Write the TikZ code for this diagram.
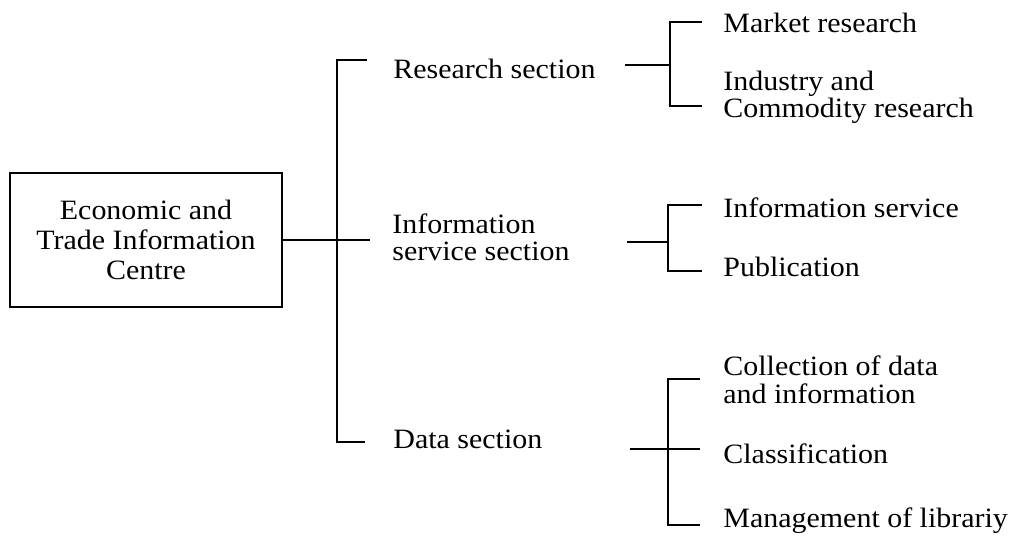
\documentclass[tikz,border=0pt]{standalone}
\usepackage{fontspec}
\setmainfont{Liberation Serif}[FakeStretch=1.07]
\begin{document}
\begin{tikzpicture}[x=0.5pt,y=-0.5pt]
	\tikzset{unit/.style = {draw, line width=0.9pt, align=center, minimum width=136pt, minimum height=67pt, inner sep=0pt, font=\fontsize{14}{15}\selectfont}}
	\tikzset{part/.style = {align=left, inner sep=0pt, font=\fontsize{14}{13.5}\selectfont}}
	\tikzset{link/.style = {line width=0.8pt}}
	\useasboundingbox (0,0) rectangle (1012,539);
	% Draw the centre and its sections
	\node[unit] (centre) at (146,240) {Economic and\\Trade Information\\Centre};
	\node[part, anchor=base west] (research) at (393,79) {Research section};
	\node[part, anchor=west] (service) at (392,237) {Information\\service section};
	\node[part, anchor=base west] (data) at (393,449) {Data section};
	% Draw the sub-units
	\node[part, anchor=base west] (market) at (723,33) {Market research};
	\node[part, anchor=west] (industry) at (723,97) {Industry and\\Commodity research};
	\node[part, anchor=base west] (infoserv) at (723,218) {Information service};
	\node[part, anchor=base west] (publ) at (723,277) {Publication};
	\node[part, anchor=west, font=\fontsize{14}{14}\selectfont] (collect) at (723,380) {Collection of data\\and information};
	\node[part, anchor=base west] (classif) at (723,464) {Classification};
	\node[part, anchor=base west] (library) at (723,527) {Management of librariy};
	% Main bracket
	\coordinate (m1) at (337,60);
	\coordinate (m3) at (337,442);
	\coordinate (t1) at (367,60);
	\coordinate (t2) at (370,240);
	\coordinate (t3) at (365,442);
	\draw[link, line width=1.2pt] (t1) -- (m1) -- (m3) -- (t3);
	\draw[link] (centre.east) -- (t2);
	% Research branch
	\coordinate (ra) at (625,65);
	\coordinate (rb) at (670,65);
	\coordinate (r1) at (670,22);
	\coordinate (r2) at (670,106);
	\coordinate (r1e) at (702,22);
	\coordinate (r2e) at (702,106);
	\draw[link] (ra) -- (rb);
	\draw[link] (r1e) -- (r1) -- (r2) -- (r2e);
	% Information service branch
	\coordinate (sa) at (627,242);
	\coordinate (sb) at (668,242);
	\coordinate (s1) at (668,205);
	\coordinate (s2) at (668,271);
	\coordinate (s1e) at (702,205);
	\coordinate (s2e) at (702,271);
	\draw[link] (sa) -- (sb);
	\draw[link] (s1e) -- (s1) -- (s2) -- (s2e);
	% Data branch
	\coordinate (da) at (630,449);
	\coordinate (dm) at (700,449);
	\coordinate (d1) at (668,379);
	\coordinate (d2) at (668,525);
	\coordinate (d1e) at (700,379);
	\coordinate (d2e) at (700,525);
	\draw[link] (da) -- (dm);
	\draw[link] (d1e) -- (d1) -- (d2) -- (d2e);
\end{tikzpicture}
\end{document}
